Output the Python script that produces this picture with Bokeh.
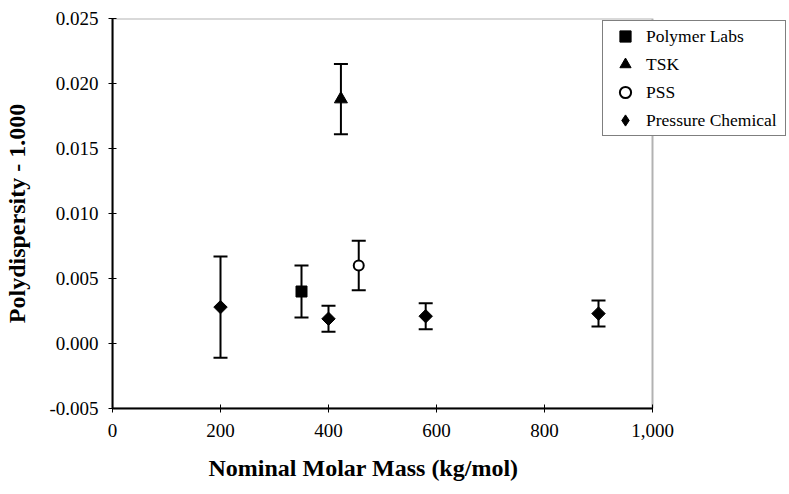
import math
from bokeh.plotting import figure
from bokeh.models import (ColumnDataSource, Whisker, TeeHead, Range1d, Legend, LegendItem,
                          FixedTicker, NumeralTickFormatter, Title, BoxAnnotation)
from bokeh.embed import file_html
from bokeh.resources import INLINE

# --- data ---
pl_x = [350]
pl_y = [0.0040]
pl_err = [0.0020]

tsk_x = [423]
tsk_y = [0.0188]
tsk_err = [0.0027]

pss_x = [456]
pss_y = [0.0060]
pss_err = [0.0019]

pc_x = [200, 400, 580, 900]
pc_y = [0.0028, 0.0019, 0.0021, 0.0023]
pc_err = [0.0039, 0.0010, 0.0010, 0.0010]

x_ticks = [0, 200, 400, 600, 800, 1000]
y_ticks = [-0.005, 0.0, 0.005, 0.010, 0.015, 0.020, 0.025]
x_min, x_max = 0, 1000
y_min, y_max = -0.005, 0.025

FONT = "Liberation Serif"

# frame extends to the right edge so the legend (which overlaps the plot box) is not clipped;
# the visible plot box is drawn at the data limits 0..1000
p = figure(width=789, height=494, output_backend="svg", toolbar_location=None,
           x_range=Range1d(0, 1250), y_range=Range1d(y_min, y_max),
           min_border_left=112, min_border_right=2, min_border_top=18, min_border_bottom=86)
p.background_fill_color = "white"
p.border_fill_color = "white"
p.grid.visible = False
p.outline_line_color = None

box = BoxAnnotation(left=x_min, right=x_max, bottom=y_min, top=y_max,
                    fill_alpha=0, line_color="black", line_width=2)
p.add_layout(box)

def make_src(x, y, e):
    return ColumnDataSource(dict(x=x, y=y, lo=[a - b for a, b in zip(y, e)], hi=[a + b for a, b in zip(y, e)]))

series = [
    ("Polymer Labs", pl_x, pl_y, pl_err, "square", "black", 11, 0.0),
    ("TSK", tsk_x, tsk_y, tsk_err, "triangle", "black", 13, 0.0),
    ("PSS", pss_x, pss_y, pss_err, "circle", "white", 10, 0.0),
    ("Pressure Chemical", pc_x, pc_y, pc_err, "square", "black", 9.5, math.pi / 4),
]

items = []
for name, xs, ys, es, marker, fill, size, ang in series:
    src = make_src(xs, ys, es)
    w = Whisker(source=src, base="x", upper="hi", lower="lo", dimension="height",
                line_color="black", line_width=2,
                upper_head=TeeHead(size=14, line_color="black", line_width=2),
                lower_head=TeeHead(size=14, line_color="black", line_width=2))
    p.add_layout(w)
    if ang:
        # legend-only diamond (zero size on the plot; the legend sizes its glyph itself)
        leg_r = p.scatter("x", "y", source=src, marker="diamond", size=0,
                          fill_color="black", line_color="black", line_width=1)
    r = p.scatter("x", "y", source=src, marker=marker, size=size, angle=ang,
                  fill_color=fill, line_color="black", line_width=2 if fill == "white" else 1)
    items.append(LegendItem(label=name, renderers=[leg_r if ang else r]))

legend = Legend(items=items, location=(490, 272), orientation="vertical",
                label_text_font=FONT, label_text_font_size="17.5px", label_text_color="black",
                glyph_width=42, glyph_height=28, label_height=28, label_width=138,
                label_standoff=0, spacing=0, padding=1, margin=0,
                border_line_color="black", border_line_width=1.5,
                background_fill_color="white", background_fill_alpha=1.0)
p.add_layout(legend, "center")

# axes
for ax in (p.xaxis[0], p.yaxis[0]):
    ax.axis_line_color = "black"
    ax.axis_line_width = 2
    ax.major_tick_line_color = "black"
    ax.major_tick_line_width = 1
    ax.major_tick_in = 4
    ax.major_tick_out = 4
    ax.minor_tick_line_color = None
    ax.major_label_text_font = FONT
    ax.major_label_text_font_size = "19px"
    ax.major_label_text_color = "black"
    ax.axis_label_text_font = FONT
    ax.axis_label_text_font_size = "24px"
    ax.axis_label_text_font_style = "bold"
    ax.axis_label_text_color = "black"

p.xaxis.ticker = FixedTicker(ticks=x_ticks)
p.xaxis.formatter = NumeralTickFormatter(format="0,0")
p.xaxis.major_label_standoff = 11
p.xaxis.bounds = (x_min, x_max)
p.yaxis.ticker = FixedTicker(ticks=y_ticks)
p.yaxis.formatter = NumeralTickFormatter(format="0.000")
p.yaxis.major_label_standoff = 10
p.yaxis.axis_label = "Polydispersity - 1.000"
p.yaxis.axis_label_standoff = 16

xt = Title(text="Nominal Molar Mass (kg/mol)", align="left", offset=96,
           text_font=FONT, text_font_size="24px", text_font_style="bold", text_color="black",
           standoff=27)
p.add_layout(xt, "below")

open("out.html", "w").write(file_html(p, INLINE))
